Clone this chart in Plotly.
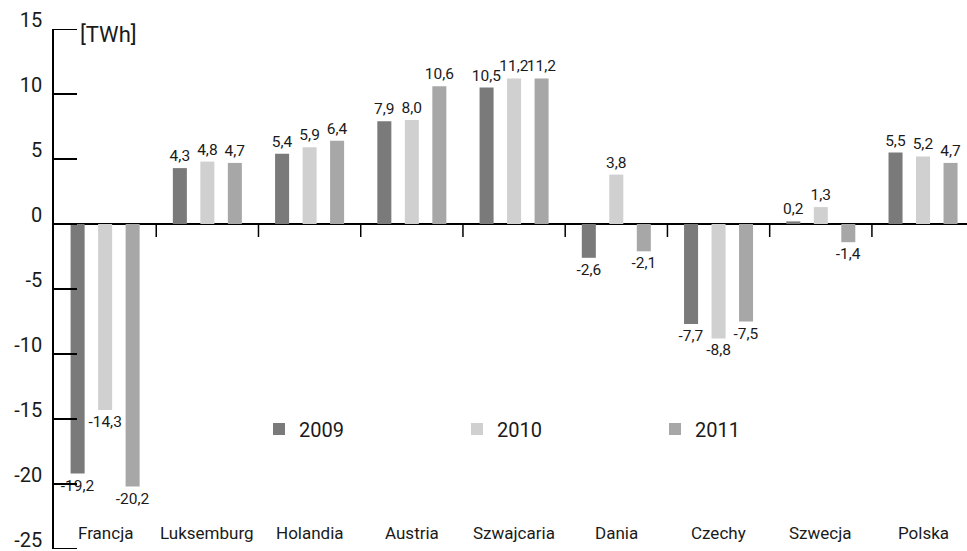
import plotly.graph_objects as go

# Net electricity exchange by country, TWh
countries = ["Francja", "Luksemburg", "Holandia", "Austria", "Szwajcaria",
             "Dania", "Czechy", "Szwecja", "Polska"]
years = ["2009", "2010", "2011"]
v2009 = [-19.2, 4.3, 5.4, 7.9, 10.5, -2.6, -7.7, 0.2, 5.5]
v2010 = [-14.3, 4.8, 5.9, 8.0, 11.2, 3.8, -8.8, 1.3, 5.2]
v2011 = [-20.2, 4.7, 6.4, 10.6, 11.2, -2.1, -7.5, -1.4, 4.7]
series = [v2009, v2010, v2011]
colors = ["#7a7a7a", "#d0d0d0", "#a7a7a7"]
y_ticks = [-25, -20, -15, -10, -5, 0, 5, 10, 15]

FONT = "Roboto"
INK = "#1a1a1a"
PLOT_W = 913  # width of the plotting area in px
X_RANGE = [-0.5, 8.43]
TICK_LEN = 23 * (X_RANGE[1] - X_RANGE[0]) / PLOT_W  # 23 px in x units


def fmt(v):
    return f"{v:.1f}".replace(".", ",")


fig = go.Figure()
xs = list(range(len(countries)))
for name, vals, col in zip(years, series, colors):
    fig.add_trace(go.Bar(
        x=xs, y=vals, name=name,
        marker=dict(color=col, line=dict(width=0)),
        text=[fmt(v) for v in vals],
        textposition="outside",
        constraintext="none",
        cliponaxis=False,
        textfont=dict(family=FONT, size=15.5, color=INK),
    ))

# short dividers between country groups, hanging below the zero line
dx, dy = [], []
for i in range(len(countries) - 1):
    dx += [i + 0.5, i + 0.5, None]
    dy += [0, -1, None]
fig.add_trace(go.Scatter(x=dx, y=dy, mode="lines", showlegend=False,
                         hoverinfo="skip", line=dict(color="black", width=1.5)))

# value-axis tick marks pointing into the plot
tx, ty = [], []
for t in y_ticks:
    tx += [X_RANGE[0], X_RANGE[0] + TICK_LEN, None]
    ty += [t, t, None]
fig.add_trace(go.Scatter(x=tx, y=ty, mode="lines", showlegend=False,
                         hoverinfo="skip", cliponaxis=False,
                         line=dict(color="black", width=2)))

# country names along the bottom of the plot area
for i, c in enumerate(countries):
    fig.add_annotation(x=i, y=-23.8, xref="x", yref="y", text=c,
                       showarrow=False, font=dict(family=FONT, size=17, color=INK),
                       xanchor="center", yanchor="middle")

# unit label next to the top tick
fig.add_annotation(x=(78 - 54) / PLOT_W, y=y_ticks[-1], xref="paper", yref="y",
                   text="[TWh]", showarrow=False, yshift=-5,
                   font=dict(family=FONT, size=22, color=INK),
                   xanchor="left", yanchor="middle")

fig.update_layout(
    width=967, height=551,
    margin=dict(l=54, r=0, t=29, b=2, autoexpand=False),
    paper_bgcolor="white", plot_bgcolor="white",
    barmode="group", bargap=0.193, bargroupgap=0.49,
    showlegend=True,
    legend=dict(orientation="h", x=(259 - 54) / PLOT_W, xanchor="left",
                y=(549 - 429) / 520, yanchor="middle",
                entrywidth=153, entrywidthmode="pixels",
                font=dict(family=FONT, size=20, color=INK),
                bgcolor="rgba(0,0,0,0)", traceorder="normal"),
    xaxis=dict(range=X_RANGE, showline=False, ticks="", showticklabels=False,
               showgrid=False, zeroline=False, automargin=False),
    yaxis=dict(range=[-25, 15], showline=True, linecolor="black", linewidth=1.5,
               tickmode="array", tickvals=y_ticks, ticktext=[str(t) for t in y_ticks],
               ticks="inside", ticklen=23, tickwidth=2, tickcolor="black",
               ticklabelstandoff=6, ticklabelshift=-9, ticklabeloverflow="allow",
               tickfont=dict(family=FONT, size=20, color=INK),
               showgrid=False, zeroline=True, zerolinecolor="black", zerolinewidth=1.5,
               automargin=False),
)

fig.write_html("out.html")
